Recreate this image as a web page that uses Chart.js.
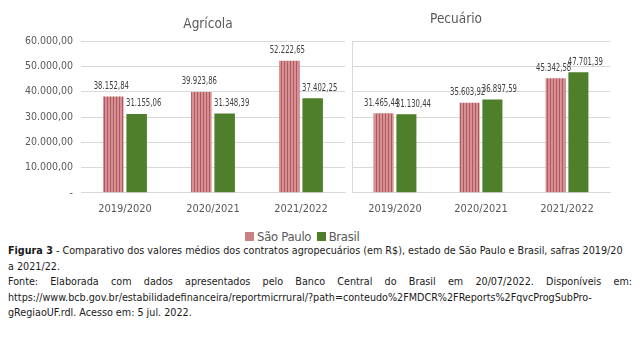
<!DOCTYPE html>
<html>
<head>
<meta charset="utf-8">
<script src="https://cdn.jsdelivr.net/npm/chart.js@4.4.1/dist/chart.umd.min.js"></script>
<style>
  body { margin: 0; background: #fff; width: 640px; height: 337px; overflow: hidden; position: relative; }
  canvas { position: absolute; top: 0; }
  #agri { left: 0; }
  #pec { left: 272px; }
  .legend { position: absolute; top: 229px; left: 245px; font: 13px 'DejaVu Sans Condensed', sans-serif; color: #595959; white-space: nowrap; letter-spacing: -0.3px; }
  .legend i { display: inline-block; width: 9px; height: 9px; margin: 0 3px 0 0; }
  .caption { position: absolute; left: 8px; top: 243px; width: 624px; font: 10.7px 'DejaVu Sans Condensed', sans-serif; color: #1a1a1a; line-height: 15.5px; }
  .caption div { white-space: nowrap; }
  .caption .just { text-align: justify; text-align-last: justify; }
</style>
</head>
<body>
<canvas id="agri" width="416" height="226"></canvas>
<canvas id="pec" width="368" height="226"></canvas>
<div class="legend"><i style="background:#c98282"></i>São Paulo <i style="background:#4f7f2b; margin-left:2px"></i>Brasil</div>
<div class="caption">
  <div><b>Figura 3</b> - Comparativo dos valores médios dos contratos agropecuários (em R$), estado de São Paulo e Brasil, safras 2019/20</div>
  <div>a 2021/22.</div>
  <div class="just">Fonte: Elaborada com dados apresentados pelo Banco Central do Brasil em 20/07/2022. Disponíveis em:</div>
  <div>https://www.bcb.gov.br/estabilidadefinanceira/reportmicrrural/?path=conteudo%2FMDCR%2FReports%2FqvcProgSubPro-</div>
  <div>gRegiaoUF.rdl. Acesso em: 5 jul. 2022.</div>
</div>
<script>
const safras = ['2019/2020', '2020/2021', '2021/2022']
const agriSP = [38152.84, 39923.86, 52222.65]
const agriBR = [31155.06, 31348.39, 37402.25]
const pecSP = [31465.44, 35603.92, 45342.58]
const pecBR = [31130.44, 36897.59, 47701.39]
const yTicks = [0, 10000, 20000, 30000, 40000, 50000, 60000]

const narrow = "'DejaVu Sans Condensed', sans-serif"
const gray = '#595959'
const green = '#4f7f2b'

// vertical stripes for the São Paulo bars
const pc = document.createElement('canvas')
pc.width = 3
pc.height = 4
const pctx = pc.getContext('2d')
pctx.fillStyle = '#dc8f90'
pctx.fillRect(0, 0, 3, 4)
pctx.fillStyle = '#a55c62'
pctx.fillRect(2, 0, 1, 4)
const stripes = pctx.createPattern(pc, 'repeat')

function fmt (v) {
  const [i, d] = v.toFixed(2).split('.')
  return i.replace(/\B(?=(\d{3})+(?!\d))/g, '.') + ',' + d
}

// value above each bar, squeezed a little to look like the narrow original font;
// Brasil labels sit a bit to the right so neighbours don't collide
const valueLabels = {
  id: 'valueLabels',
  afterDatasetsDraw (chart) {
    const ctx = chart.ctx
    chart.data.datasets.forEach((ds, i) => {
      const dx = i === 0 ? -2 : 7
      chart.getDatasetMeta(i).data.forEach((bar, j) => {
        ctx.save()
        ctx.translate(bar.x + dx, bar.y - 5)
        ctx.scale(0.7, 1)
        ctx.font = '11px ' + narrow
        ctx.fillStyle = '#404040'
        ctx.textAlign = 'center'
        ctx.textBaseline = 'bottom'
        ctx.fillText(fmt(ds.data[j]), 0, 0)
        ctx.restore()
      })
    })
  }
}

// leftW / rightW: room left and right of the plot, so the title stays centred on the canvas
function makeChart (id, title, sp, br, showY, leftW, rightW, titlePad) {
  return new Chart(document.getElementById(id), {
    type: 'bar',
    data: {
      labels: safras,
      datasets: [
        { label: 'São Paulo', data: sp, backgroundColor: stripes, categoryPercentage: 0.53, barPercentage: 0.88 },
        { label: 'Brasil', data: br, backgroundColor: green, categoryPercentage: 0.53, barPercentage: 0.88 }
      ]
    },
    options: {
      responsive: false,
      animation: false,
      layout: { padding: 0 },
      scales: {
        x: {
          grid: { display: false, drawTicks: false },
          border: { color: '#d9d9d9' },
          ticks: { color: gray, font: { family: narrow, size: 11 }, padding: 10 }
        },
        y: {
          min: 0,
          max: 60000,
          afterBuildTicks: s => { s.ticks = yTicks.map(v => ({ value: v })) },
          afterFit: s => { s.width = leftW },
          grid: { color: '#d9d9d9', drawTicks: false },
          border: { display: !showY, color: '#d9d9d9' },
          ticks: {
            display: showY,
            color: gray,
            padding: 8,
            font: { family: narrow, size: 10.5 },
            callback: v => v === 0 ? '-' : fmt(v)
          }
        },
        spacer: {
          type: 'linear',
          position: 'right',
          afterFit: s => { s.width = rightW },
          grid: { display: false },
          border: { display: false },
          ticks: { display: false }
        }
      },
      plugins: {
        legend: { display: false },
        tooltip: { enabled: false },
        title: { display: true, text: title, color: gray, font: { family: narrow, size: 13.5, weight: 'normal' }, padding: titlePad }
      }
    },
    plugins: [valueLabels]
  })
}

makeChart('agri', 'Agrícola', agriSP, agriBR, true, 81, 71, { top: 16, bottom: 9 })
makeChart('pec', 'Pecuário', pecSP, pecBR, false, 80, 30, { top: 11, bottom: 14 })
</script>
</body>
</html>
